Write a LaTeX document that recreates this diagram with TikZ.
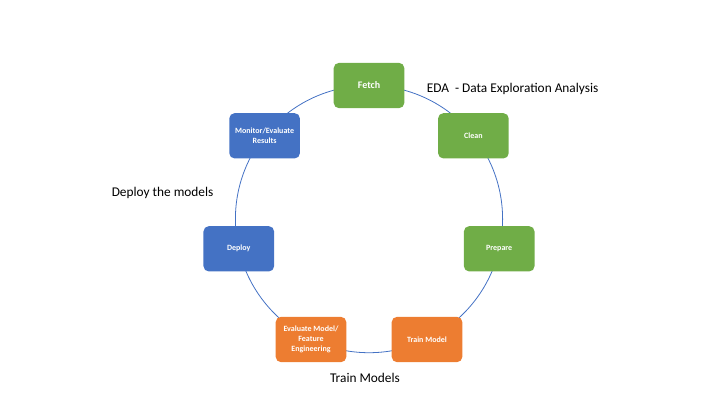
\documentclass[tikz,border=0pt]{standalone}
\usepackage{fontspec}
\setmainfont{Carlito}
\usepackage{tikz}
\usetikzlibrary{positioning}
\usepackage{xcolor}
\definecolor{cyblue}{RGB}{68,114,196}
\definecolor{cygreen}{RGB}{112,173,71}
\definecolor{cyorange}{RGB}{237,125,49}
\tikzstyle{stage} = [rounded corners=4pt, minimum width=53pt, minimum height=34pt, inner sep=1pt, align=center, text=white, font=\fontsize{6}{7.6}\selectfont\bfseries]
\tikzstyle{note} = [font=\fontsize{10}{12}\selectfont, inner sep=0pt]

\begin{document}
\begin{tikzpicture}[x=0.75pt, y=0.75pt]
\useasboundingbox (0,0) rectangle (720,405);

% Cycle behind the stages
\coordinate (c) at (369,185.9);
\draw[cyblue, line width=0.6pt] (c) circle (133.6);

% Stages
\node[stage, fill=cygreen, font=\fontsize{7.5}{9}\selectfont\bfseries] (fetch) at (369,319.5) {Fetch};
\node[stage, fill=cygreen] (clean) at (473.4,269.2) {Clean};
\node[stage, fill=cygreen] (prepare) at (499.2,156.2) {Prepare};
\node[stage, fill=cyorange] (train) at (427,65.5) {Train Model};
\node[stage, fill=cyorange] (evaluate) at (311,65.5) {Evaluate Model/\\Feature\\Engineering};
\node[stage, fill=cyblue] (deploy) at (238.8,156.2) {Deploy};
\node[stage, fill=cyblue] (monitor) at (264.6,269.2) {Monitor/Evaluate\\Results};

% Phase notes
\node[note, anchor=west] (eda) at (426.5,316) {EDA \ - Data Exploration Analysis};
\node[note, anchor=west] (deploynote) at (111.5,212.4) {Deploy the models};
\node[note] (trainnote) at (365,27) {Train Models};
\end{tikzpicture}
\end{document}
